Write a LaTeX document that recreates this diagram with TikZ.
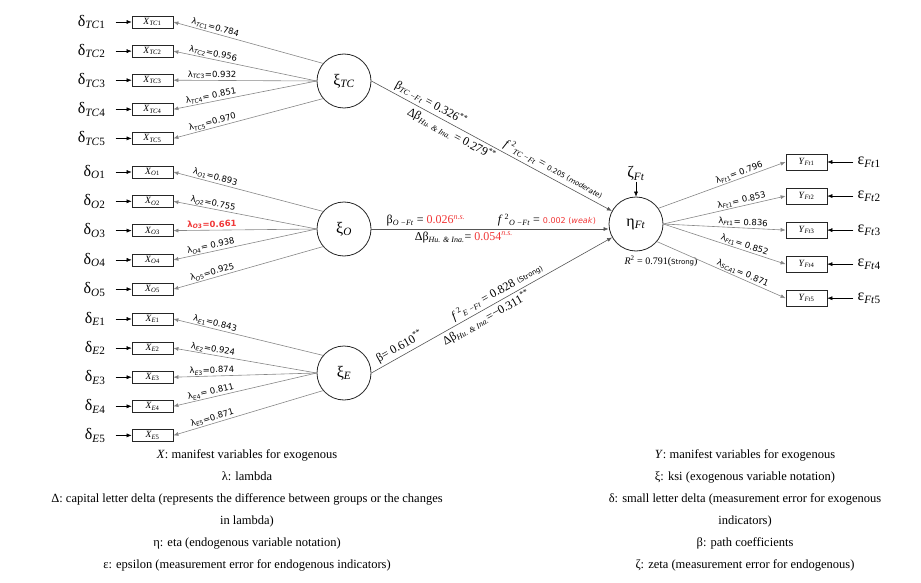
\documentclass[tikz,border=0pt]{standalone}
\usepackage{fontspec}
\setmainfont{Liberation Serif}
\newfontfamily\labfont{DejaVu Sans}
\usetikzlibrary{positioning,arrows.meta}

\definecolor{nsred}{RGB}{240,55,55}
\definecolor{linegray}{RGB}{135,135,135}
\definecolor{pathgray}{RGB}{85,85,85}

\newcommand\sbs[2]{\textsubscript{\textit{#1}#2}}

\tikzset{
  mv/.style={draw=black!85, line width=0.8pt, rectangle, minimum width=41pt, minimum height=12pt, inner sep=0pt, font=\fontsize{9.5}{9.5}\selectfont},
  ymv/.style={mv, minimum height=16pt},
  lv/.style={draw=black!85, line width=0.8pt, circle, minimum size=54pt, inner sep=0pt, font=\fontsize{16}{16}\selectfont},
  err/.style={font=\fontsize{16}{16}\selectfont, inner xsep=10pt, inner ysep=0pt},
  load/.style={draw=linegray, line width=0.6pt, ->},
  lab/.style={sloped, above, inner sep=1pt, font=\labfont\fontsize{8.5}{9}\selectfont},
  pathline/.style={draw=pathgray, line width=0.6pt, ->},
  plab/.style={sloped, inner sep=2.5pt, font=\fontsize{12}{12}\selectfont},
}

\begin{document}
\begin{tikzpicture}[x=1pt, y=-1pt, >={Latex[length=5pt,width=4pt]}, node distance=16pt]
\useasboundingbox (0,0) rectangle (921,583);

% latent variables
\node[lv] (xiTC) at (344,81) {ξ\sbs{TC}{}};
\node[lv] (xiO) at (344,229) {ξ\sbs{O}{}};
\node[lv] (xiE) at (344,373) {ξ\sbs{E}{}};
\node[lv] (eta) at (636,224) {η\sbs{Ft}{}};
\node[font=\fontsize{16}{16}\selectfont, inner sep=1pt, above=15pt of eta] (zeta) {ζ\sbs{Ft}{}};
\node[below=1pt of eta, xshift=25pt, font=\fontsize{10}{10}\selectfont] (rsq) {\textit{R}\textsuperscript{2} = 0.791({\labfont\fontsize{7}{7}\selectfont Strong})};

% TC indicators
\node[mv] (xTC1) at (152.5,22) {\textit{X}\sbs{TC}{1}};
\node[mv, below=16.3pt of xTC1] (xTC2) {\textit{X}\sbs{TC}{2}};
\node[mv, below=16.3pt of xTC2] (xTC3) {\textit{X}\sbs{TC}{3}};
\node[mv, below=16.3pt of xTC3] (xTC4) {\textit{X}\sbs{TC}{4}};
\node[mv, below=16.3pt of xTC4] (xTC5) {\textit{X}\sbs{TC}{5}};
\node[err, left=of xTC1] (dTC1) {δ\sbs{TC}{1}};
\node[err, left=of xTC2] (dTC2) {δ\sbs{TC}{2}};
\node[err, left=of xTC3] (dTC3) {δ\sbs{TC}{3}};
\node[err, left=of xTC4] (dTC4) {δ\sbs{TC}{4}};
\node[err, left=of xTC5] (dTC5) {δ\sbs{TC}{5}};

% O indicators
\node[mv] (xO1) at (152.5,172) {\textit{X}\sbs{O}{1}};
\node[mv, below=16.5pt of xO1] (xO2) {\textit{X}\sbs{O}{2}};
\node[mv, below=16.5pt of xO2] (xO3) {\textit{X}\sbs{O}{3}};
\node[mv, below=16.5pt of xO3] (xO4) {\textit{X}\sbs{O}{4}};
\node[mv, below=16.5pt of xO4] (xO5) {\textit{X}\sbs{O}{5}};
\node[err, left=of xO1] (dO1) {δ\sbs{O}{1}};
\node[err, left=of xO2] (dO2) {δ\sbs{O}{2}};
\node[err, left=of xO3] (dO3) {δ\sbs{O}{3}};
\node[err, left=of xO4] (dO4) {δ\sbs{O}{4}};
\node[err, left=of xO5] (dO5) {δ\sbs{O}{5}};

% E indicators
\node[mv] (xE1) at (152.5,319) {\textit{X}\sbs{E}{1}};
\node[mv, below=16.3pt of xE1] (xE2) {\textit{X}\sbs{E}{2}};
\node[mv, below=16.3pt of xE2] (xE3) {\textit{X}\sbs{E}{3}};
\node[mv, below=16.3pt of xE3] (xE4) {\textit{X}\sbs{E}{4}};
\node[mv, below=16.3pt of xE4] (xE5) {\textit{X}\sbs{E}{5}};
\node[err, left=of xE1] (dE1) {δ\sbs{E}{1}};
\node[err, left=of xE2] (dE2) {δ\sbs{E}{2}};
\node[err, left=of xE3] (dE3) {δ\sbs{E}{3}};
\node[err, left=of xE4] (dE4) {δ\sbs{E}{4}};
\node[err, left=of xE5] (dE5) {δ\sbs{E}{5}};

% Ft indicators
\node[ymv] (yFt1) at (806.5,162) {\textit{Y}\sbs{Ft}{1}};
\node[ymv, below=17.25pt of yFt1] (yFt2) {\textit{Y}\sbs{Ft}{2}};
\node[ymv, below=17.25pt of yFt2] (yFt3) {\textit{Y}\sbs{Ft}{3}};
\node[ymv, below=17.25pt of yFt3] (yFt4) {\textit{Y}\sbs{Ft}{4}};
\node[ymv, below=17.25pt of yFt4] (yFt5) {\textit{Y}\sbs{Ft}{5}};
\node[err, inner xsep=4pt, right=26pt of yFt1] (eFt1) {ε\sbs{Ft}{1}};
\node[err, inner xsep=4pt, right=26pt of yFt2] (eFt2) {ε\sbs{Ft}{2}};
\node[err, inner xsep=4pt, right=26pt of yFt3] (eFt3) {ε\sbs{Ft}{3}};
\node[err, inner xsep=4pt, right=26pt of yFt4] (eFt4) {ε\sbs{Ft}{4}};
\node[err, inner xsep=4pt, right=26pt of yFt5] (eFt5) {ε\sbs{Ft}{5}};

% error arrows
\draw[->] (dTC1) -- (xTC1);
\draw[->] (dTC2) -- (xTC2);
\draw[->] (dTC3) -- (xTC3);
\draw[->] (dTC4) -- (xTC4);
\draw[->] (dTC5) -- (xTC5);
\draw[->] (dO1) -- (xO1);
\draw[->] (dO2) -- (xO2);
\draw[->] (dO3) -- (xO3);
\draw[->] (dO4) -- (xO4);
\draw[->] (dO5) -- (xO5);
\draw[->] (dE1) -- (xE1);
\draw[->] (dE2) -- (xE2);
\draw[->] (dE3) -- (xE3);
\draw[->] (dE4) -- (xE4);
\draw[->] (dE5) -- (xE5);
\draw[->] (eFt1) -- (yFt1);
\draw[->] (eFt2) -- (yFt2);
\draw[->] (eFt3) -- (yFt3);
\draw[->] (eFt4) -- (yFt4);
\draw[->] (eFt5) -- (yFt5);
\draw[->] (zeta) -- (eta);

% loadings
\draw[load] (xiTC.140) -- node[lab, pos=0.73] {λ\sbs{TC}{1}=0.784} (xTC1.east);
\draw[load] (xiTC.west) -- node[lab, pos=0.73] {λ\sbs{TC}{2}=0.956} (xTC2.east);
\draw[load] (xiTC.west) -- node[lab, pos=0.73] {λ\sbs{TC}{3}=0.932} (xTC3.east);
\draw[load] (xiTC.west) -- node[lab, pos=0.73] {λ\sbs{TC}{4}= 0.851} (xTC4.east);
\draw[load] (xiTC.220) -- node[lab, pos=0.73] {λ\sbs{TC}{5}=0.970} (xTC5.east);
\draw[load] (xiO.140) -- node[lab, pos=0.73] {λ\sbs{O}{1}=0.893} (xO1.east);
\draw[load] (xiO.west) -- node[lab, pos=0.73] {λ\sbs{O}{2}=0.755} (xO2.east);
\draw[load] (xiO.west) -- node[lab, pos=0.73, text=nsred] {\bfseries λ\sbs{O}{3}=0.661} (xO3.east);
\draw[load] (xiO.west) -- node[lab, pos=0.73] {λ\sbs{O}{4}= 0.938} (xO4.east);
\draw[load] (xiO.220) -- node[lab, pos=0.73] {λ\sbs{O}{5}=0.925} (xO5.east);
\draw[load] (xiE.140) -- node[lab, pos=0.73] {λ\sbs{E}{1}=0.843} (xE1.east);
\draw[load] (xiE.west) -- node[lab, pos=0.73] {λ\sbs{E}{2}=0.924} (xE2.east);
\draw[load] (xiE.west) -- node[lab, pos=0.73] {λ\sbs{E}{3}=0.874} (xE3.east);
\draw[load] (xiE.west) -- node[lab, pos=0.73] {λ\sbs{E}{4}= 0.811} (xE4.east);
\draw[load] (xiE.220) -- node[lab, pos=0.73] {λ\sbs{E}{5}=0.871} (xE5.east);
\draw[load] (eta.35) -- node[lab, pos=0.65] {λ\sbs{Ft}{1}= 0.796} (yFt1.west);
\draw[load] (eta.east) -- node[lab, pos=0.65] {λ\sbs{Ft}{1}= 0.853} (yFt2.west);
\draw[load] (eta.east) -- node[lab, pos=0.65] {λ\sbs{Ft}{1}= 0.836} (yFt3.west);
\draw[load] (eta.east) -- node[lab, pos=0.65] {λ\sbs{Ft}{1}= 0.852} (yFt4.west);
\draw[load] (eta.-40) -- node[lab, pos=0.65] {λ\sbs{SCA}{1}= 0.871} (yFt5.west);

% structural paths
\draw[pathline] (xiTC.east) --
  node[plab, above, pos=0.23] {β\sbs{TC −Ft}{} = 0.326\textsuperscript{**}}
  node[plab, below, pos=0.35] {Δβ\sbs{Hu. \& Ina.}{} = 0.279\textsuperscript{**}}
  node[plab, above, pos=0.74] {\textit{f}\,\textsuperscript{2}\sbs{TC −Ft}{} = {\labfont\fontsize{7}{7}\selectfont 0.205 (\textit{moderate})}} (eta);
\draw[pathline] (xiO) -- (xiO -| eta.west)
  node[plab, above, pos=0.23] {β\sbs{O −Ft}{} = \textcolor{nsred}{0.026\textsuperscript{\textit{n.s.}}}}
  node[plab, below, pos=0.39] {Δβ\sbs{Hu. \& Ina.}{}= \textcolor{nsred}{0.054\textsuperscript{\textit{n.s.}}}}
  node[plab, above, pos=0.74] {\textit{f}\,\textsuperscript{2}\sbs{O −Ft}{} = \textcolor{nsred}{\labfont\fontsize{8}{8}\selectfont 0.002 (\textit{weak})}};
\draw[pathline] (xiE.east) --
  node[plab, above, pos=0.135] {β= 0.610\textsuperscript{**}}
  node[plab, above, pos=0.54] {\textit{f}\,\textsuperscript{2}\sbs{E −Ft}{} = 0.828 {\labfont\fontsize{7}{7}\selectfont (Strong)}}
  node[plab, below, pos=0.46] {Δβ\sbs{Hu. \& Ina.}{}=−0.311\textsuperscript{**}} (eta);

% legend
\node[font=\fontsize{12.5}{22}\selectfont, align=center] (legL) at (247,510) {\textit{X}: manifest variables for exogenous\\ λ: lambda\\ Δ: capital letter delta (represents the difference between groups or the changes\\ in lambda)\\ η: eta (endogenous variable notation)\\ ε: epsilon (measurement error for endogenous indicators)};
\node[font=\fontsize{12.5}{22}\selectfont, align=center] (legR) at (745,510) {\textit{Y}: manifest variables for exogenous\\ ξ: ksi (exogenous variable notation)\\ δ: small letter delta (measurement error for exogenous\\ indicators)\\ β: path coefficients\\ ζ: zeta (measurement error for endogenous)};
\end{tikzpicture}
\end{document}
